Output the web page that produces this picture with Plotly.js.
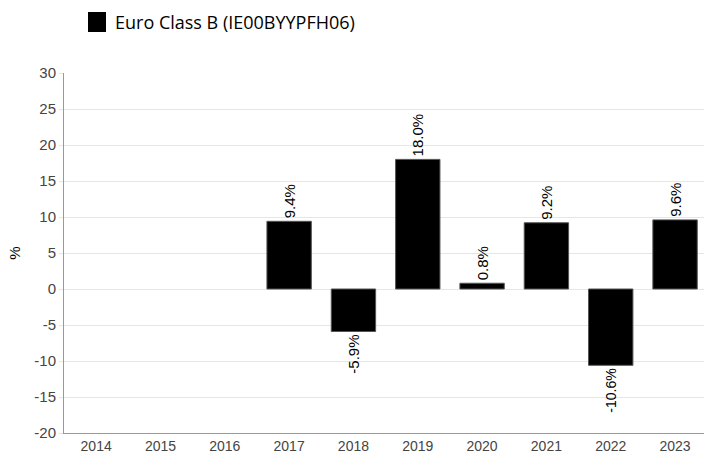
<!DOCTYPE html>
<html>
<head>
<meta charset="utf-8">
<script src="https://cdn.plot.ly/plotly-3.0.1.min.js"></script>
<style>html,body{margin:0;padding:0;background:#fff;}#chart{width:704px;height:453px;}</style>
</head>
<body>
<div id="chart"></div>
<script>
const years = ["2014","2015","2016","2017","2018","2019","2020","2021","2022","2023"];
const returns = [null, null, null, 9.4, -5.9, 18.0, 0.8, 9.2, -10.6, 9.6];
const seriesName = "Euro Class B (IE00BYYPFH06)";
const yTicks = [-20, -15, -10, -5, 0, 5, 10, 15, 20, 25, 30];

const labels = returns.map(v => v === null ? "" : v.toFixed(1) + "%");

const trace = {
  type: "bar",
  x: years,
  y: returns,
  name: seriesName,
  text: labels,
  textposition: "outside",
  textangle: -90,
  cliponaxis: false,
  textfont: {family: "Liberation Sans, Arial, sans-serif", size: 15, color: "#000"},
  marker: {color: "#000000", line: {color: "#555", width: 1}},
  showlegend: false,
  hoverinfo: "x+y"
};

const layout = {
  width: 704, height: 453,
  margin: {l: 64, r: 0, t: 73, b: 20},
  paper_bgcolor: "#fff",
  plot_bgcolor: "#fff",
  bargap: 0.31,
  showlegend: false,
  xaxis: {
    type: "category",
    categoryarray: years,
    range: [-0.5, 9.45],
    showline: true, linecolor: "#999", linewidth: 1,
    showgrid: false, zeroline: false,
    ticks: "", automargin: false,
    tickfont: {family: "Liberation Sans, Arial, sans-serif", size: 14, color: "#444"}
  },
  yaxis: {
    range: [-20, 30],
    tickvals: yTicks,
    ticktext: yTicks.map(String),
    showline: true, linecolor: "#999", linewidth: 1,
    showgrid: true, gridcolor: "#e6e6e6", gridwidth: 1,
    zeroline: false,
    ticks: "outside", ticklen: 4, tickcolor: "#e6e6e6",
    automargin: false,
    tickfont: {family: "Liberation Sans, Arial, sans-serif", size: 15, color: "#444"},
    title: {text: "%", font: {family: "Liberation Sans, Arial, sans-serif", size: 15, color: "#000"}, standoff: 10}
  },
  shapes: [{
    type: "rect", xref: "paper", yref: "paper",
    x0: 24 / 640, x1: 42 / 640,
    y0: 1 + (73 - 32) / 360, y1: 1 + (73 - 12) / 360,
    fillcolor: "#000", line: {width: 0}
  }],
  annotations: [{
    xref: "paper", yref: "paper",
    x: 49 / 640, y: 1 + (73 - 22) / 360,
    xanchor: "left", yanchor: "middle",
    text: seriesName, showarrow: false,
    font: {family: "Open Sans, Noto Sans, sans-serif", size: 18, color: "#000"}
  }]
};

Plotly.newPlot("chart", [trace], layout, {displayModeBar: false, staticPlot: true});
</script>
</body>
</html>
